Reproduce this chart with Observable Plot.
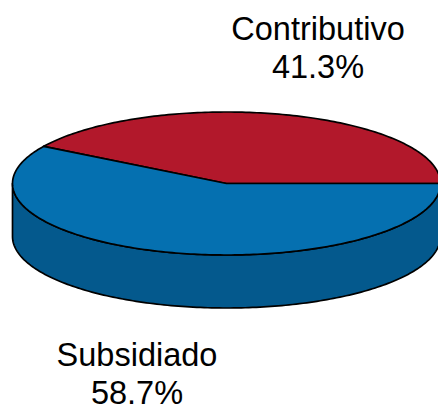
<!DOCTYPE html>
<html>
<head>
<meta charset="utf-8">
<style>html,body{margin:0;padding:0;background:#fff;overflow:hidden}svg{display:block}</style>
<script src="https://cdn.jsdelivr.net/npm/d3@7"></script>
<script src="https://cdn.jsdelivr.net/npm/@observablehq/plot@0.6"></script>
</head>
<body>
<script>
const categories = ["Contributivo", "Subsidiado"];
const shares = [41.3, 58.7];
const topColors = ["#B2182B", "#0570B0"];
const wallColors = ["#8E1322", "#04598D"];

const W = 438, H = 404;
const cx = 226, cy = 183, rx = 214, ry = 71.5, depth = 53;
const total = d3.sum(shares);
const cum = d3.cumsum(shares);
const angle = (v) => v / total * 2 * Math.PI;

const rim = (a0, a1, dy = 0) => {
  const n = Math.max(2, Math.ceil(Math.abs(a1 - a0) / (Math.PI / 180)));
  return d3.range(n + 1).map((i) => {
    const a = a0 + (a1 - a0) * i / n;
    return {x: Math.cos(a), y: Math.sin(a) - dy};
  });
};

const tops = [], walls = [];
categories.forEach((c, i) => {
  const a0 = i ? angle(cum[i - 1]) : 0, a1 = angle(cum[i]);
  tops.push(...[{x: 0, y: 0}, ...rim(a0, a1), {x: 0, y: 0}].map((p) => ({...p, c})));
  const w0 = Math.max(a0, Math.PI), w1 = a1;
  if (w1 > w0) {
    walls.push(...[...rim(w0, w1), ...rim(w1, w0, depth / ry), ...rim(w0, w0)].map((p) => ({...p, c})));
  }
});

const labels = categories.map((c, i) => `${c}\n${shares[i].toFixed(1)}%`);
const labelX = [(317.5 - cx) / rx, (136.5 - cx) / rx];
const labelY = [(cy - 46.5) / ry, (cy - 372) / ry];

document.body.append(Plot.plot({
  width: W, height: H,
  margin: 0,
  style: {background: "#fff", fontFamily: "'Liberation Sans', Arial, sans-serif"},
  x: {domain: [-cx / rx, (W - cx) / rx], axis: null},
  y: {domain: [(cy - H) / ry, cy / ry], axis: null},
  marks: [
    Plot.line(walls, {x: "x", y: "y", z: "c", fill: (d) => wallColors[categories.indexOf(d.c)], stroke: "#000", strokeWidth: 1.7, curve: "linear"}),
    Plot.line(tops, {x: "x", y: "y", z: "c", fill: (d) => topColors[categories.indexOf(d.c)], stroke: "#000", strokeWidth: 1.7, curve: "linear"}),
    Plot.text(labels, {x: (d, i) => labelX[i], y: (d, i) => labelY[i], text: (d) => d, fontSize: 32.5, lineHeight: 1.17, fill: "#000", textAnchor: "middle", lineAnchor: "middle"})
  ]
}));
</script>
</body>
</html>
